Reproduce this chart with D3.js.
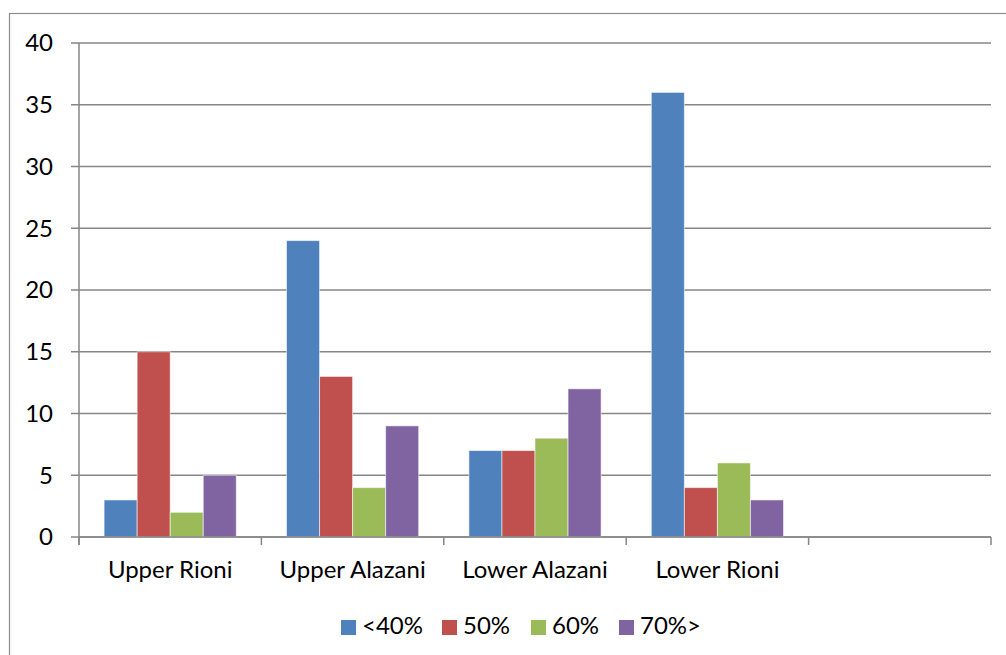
<!DOCTYPE html>
<html>
<head>
<meta charset="utf-8">
<script src="https://cdn.jsdelivr.net/npm/d3@7"></script>
<style>
  html, body { margin: 0; padding: 0; background: #fff; }
  svg { display: block; font-family: Lato, "Open Sans", sans-serif; }
</style>
</head>
<body>
<svg id="chart" width="1006" height="655"></svg>
<script>
// Regions along the x axis (the last slot is left empty)
const categories = ["Upper Rioni", "Upper Alazani", "Lower Alazani", "Lower Rioni", ""];
const seriesNames = ["<40%", "50%", "60%", "70%>"];
const seriesColors = ["#4F81BD", "#C0504D", "#9BBB59", "#8064A2"];
const lt40 = [3, 24, 7, 36];
const p50 = [15, 13, 7, 4];
const p60 = [2, 4, 8, 6];
const gt70 = [5, 9, 12, 3];
const yTicks = [0, 5, 10, 15, 20, 25, 30, 35, 40];

const seriesValues = [lt40, p50, p60, gt70];

const svg = d3.select("#chart");
const plotLeft = 79, plotRight = 991, plotTop = 43, plotBottom = 537;
const fontSize = 24;

// outer chart frame
svg.append("rect")
  .attr("x", 9.5).attr("y", 13.5)
  .attr("width", 1010).attr("height", 660)
  .attr("fill", "none").attr("stroke", "#8c8c8c").attr("stroke-width", 1.2);

const x = d3.scaleBand().domain(categories.map((c, i) => i)).range([plotLeft, plotRight]).paddingInner(0).paddingOuter(0);
const x1 = d3.scaleBand().domain(seriesNames).range([0, x.bandwidth()]).paddingOuter(0.76).paddingInner(0);
const y = d3.scaleLinear().domain([0, 40]).range([plotBottom, plotTop]);

// horizontal gridlines
svg.append("g").selectAll("line").data(yTicks).join("line")
  .attr("x1", plotLeft - 8).attr("x2", plotRight)
  .attr("y1", d => y(d)).attr("y2", d => y(d))
  .attr("stroke", "#868686").attr("stroke-width", 1.5);

// y axis line
svg.append("line")
  .attr("x1", plotLeft).attr("x2", plotLeft).attr("y1", plotTop).attr("y2", plotBottom + 8)
  .attr("stroke", "#868686").attr("stroke-width", 1.5);

// y tick labels
svg.append("g").selectAll("text").data(yTicks).join("text")
  .attr("x", plotLeft - 26).attr("y", d => y(d))
  .attr("dy", "0.35em").attr("text-anchor", "end")
  .attr("font-size", fontSize).attr("fill", "#000")
  .text(d => d);

// bars
const groups = svg.append("g").selectAll("g").data(seriesNames).join("g")
  .attr("fill", (d, i) => seriesColors[i]);
groups.each(function (name, si) {
  d3.select(this).selectAll("rect").data(seriesValues[si]).join("rect")
    .attr("x", (d, ci) => x(ci) + x1(name))
    .attr("y", d => y(d))
    .attr("width", x1.bandwidth())
    .attr("height", d => y(0) - y(d))
    .attr("stroke", "rgba(255,255,255,0.55)")
    .attr("stroke-width", 1);
});

// category axis line and tick marks
svg.append("line")
  .attr("x1", plotLeft).attr("x2", plotRight).attr("y1", plotBottom).attr("y2", plotBottom)
  .attr("stroke", "#868686").attr("stroke-width", 1.5);
const tickPos = categories.map((c, i) => x(i)).concat([plotRight]);
svg.append("g").selectAll("line").data(tickPos).join("line")
  .attr("x1", d => d).attr("x2", d => d).attr("y1", plotBottom).attr("y2", plotBottom + 8)
  .attr("stroke", "#868686").attr("stroke-width", 1.5);

// category labels
svg.append("g").selectAll("text").data(categories).join("text")
  .attr("x", (d, i) => x(i) + x.bandwidth() / 2)
  .attr("y", 578).attr("text-anchor", "middle")
  .attr("font-size", fontSize).attr("fill", "#000")
  .text(d => d);

// legend
const legendX = [341, 442, 531, 619];
const legend = svg.append("g").selectAll("g").data(seriesNames).join("g")
  .attr("transform", (d, i) => `translate(${legendX[i]},620)`);
legend.append("rect").attr("width", 15).attr("height", 15)
  .attr("fill", (d, i) => seriesColors[i]);
legend.append("text").attr("x", 21).attr("y", 14)
  .attr("font-size", fontSize).attr("fill", "#000")
  .text(d => d);
</script>
</body>
</html>
